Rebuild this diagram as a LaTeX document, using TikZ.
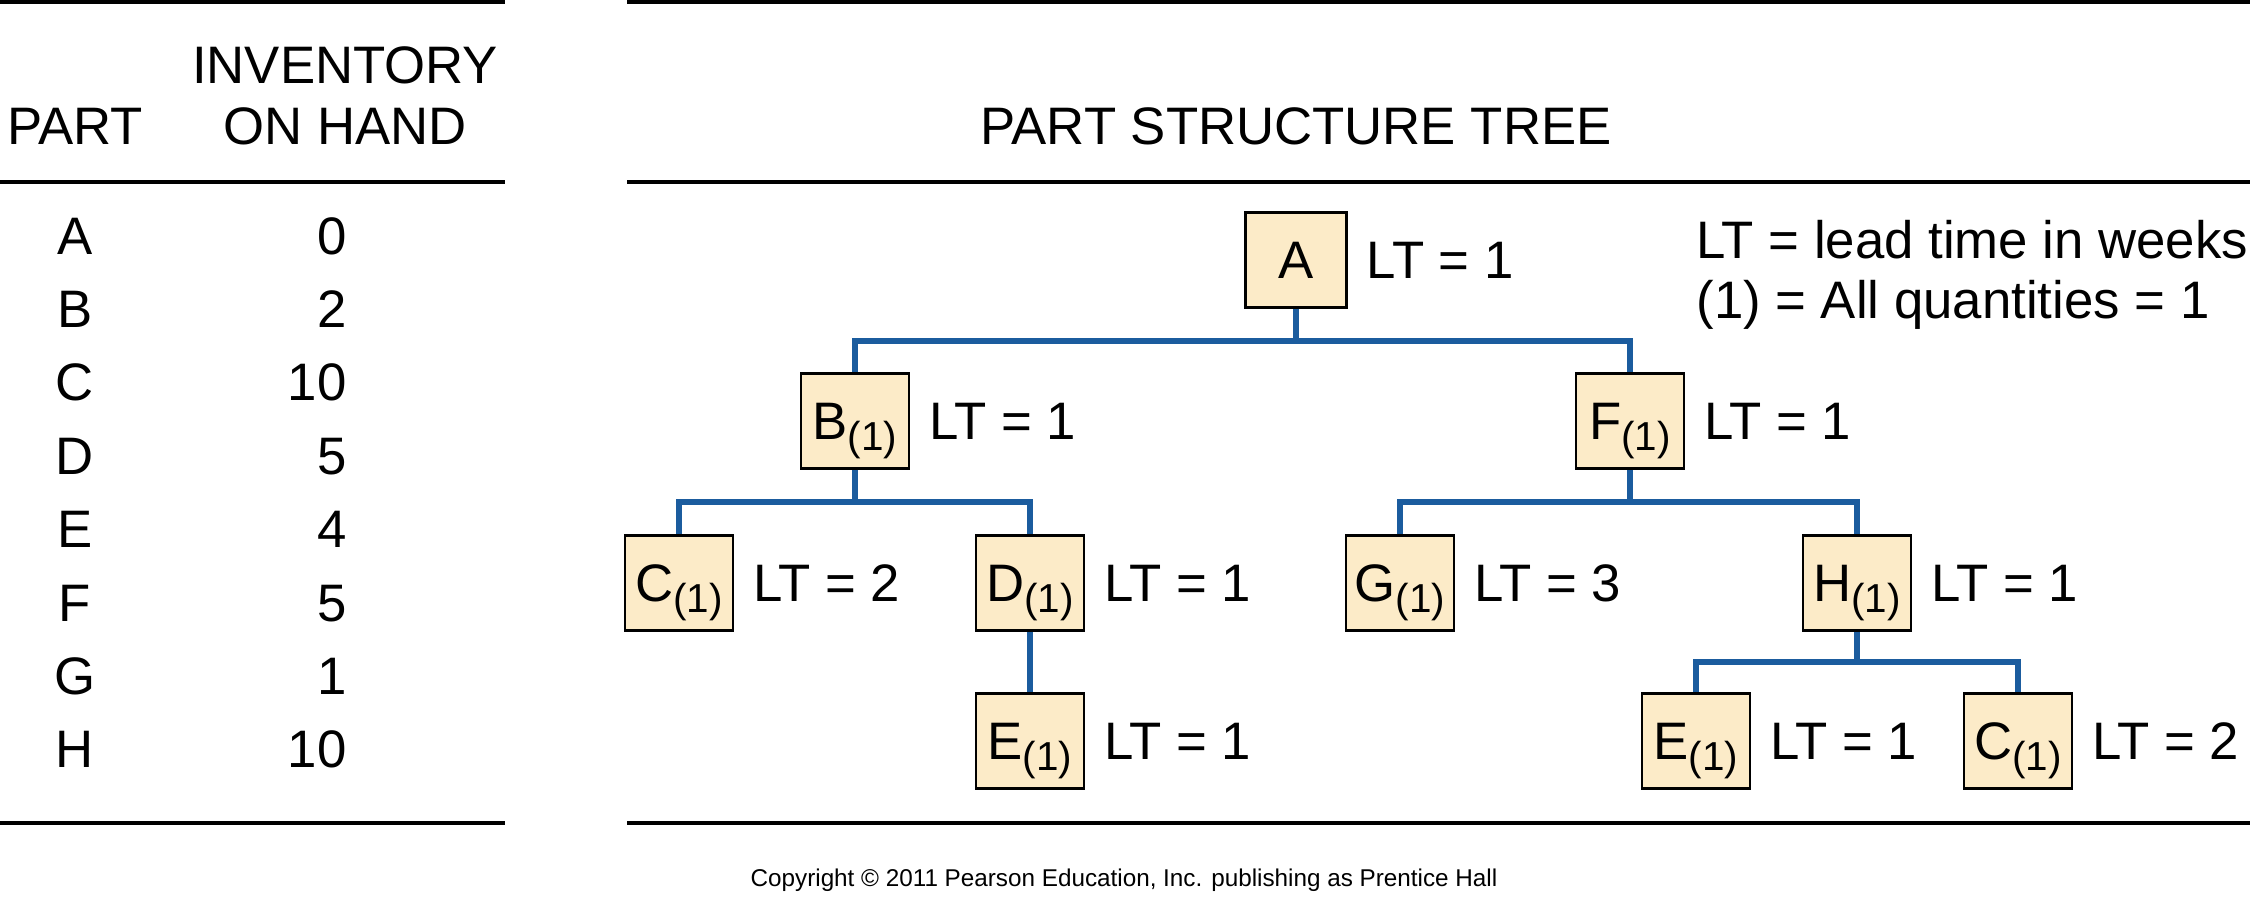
\documentclass[tikz,border=0pt]{standalone}
\usepackage{fontspec}
\setmainfont{Liberation Sans}
\usetikzlibrary{positioning}
\definecolor{partfill}{HTML}{FCEBC8}
\definecolor{treeblue}{HTML}{1B5C9E}
\newcommand{\qone}{\raisebox{-3pt}{\fontsize{11.5}{11.5}\selectfont(1)}}

\begin{document}
\begin{tikzpicture}[
    x=0.01cm, y=-0.01cm,
    font=\fontsize{15}{18}\selectfont,
    part/.style={rectangle, draw, line width=0.8pt, fill=partfill, minimum width=1.08cm, minimum height=0.95cm, inner sep=0pt, text height=10.7pt, text depth=0pt},
    lt/.style={inner sep=0pt},
    rule/.style={line width=1pt},
    link/.style={draw=treeblue, line width=1.7pt}
]
\useasboundingbox (0,0) rectangle (2250,917);

% Rules
\draw[rule] (0,2) -- (505,2);
\draw[rule] (627,2) -- (2250,2);
\draw[rule] (0,182) -- (505,182);
\draw[rule] (627,182) -- (2250,182);
\draw[rule] (0,823) -- (505,823);
\draw[rule] (627,823) -- (2250,823);

% Inventory table
\node[anchor=base] (hpart) at (75,144) {PART};
\node[anchor=base] (hinv) at (345,83) {INVENTORY};
\node[anchor=base] (hhand) at (345,144) {ON HAND};
\foreach \p/\q [count=\i from 0] in {A/0, B/2, C/10, D/5, E/4, F/5, G/1, H/10} {
    \node[anchor=base] (row\p) at (75,254+73.4*\i) {\p};
    \node[anchor=base east] (qty\p) at (359,254+73.4*\i) {\q};
}

% Part structure tree
\node[anchor=base] (htree) at (1296,144) {PART STRUCTURE TREE};
\node[part, minimum width=1.01cm] (A) at (1296,260) {A};
\node[part] (B) at (855,421) {B\qone};
\node[part] (F) at (1630,421) {F\qone};
\node[part] (C) at (679,583) {C\qone};
\node[part] (D) at (1030,583) {D\qone};
\node[part] (G) at (1400,583) {G\qone};
\node[part] (H) at (1857,583) {H\qone};
\node[part] (E) at (1030,741) {E\qone};
\node[part] (E2) at (1696,741) {E\qone};
\node[part] (C2) at (2018,741) {C\qone};

% Lead times
\node[lt, right=0.18cm of A] (ltA) {LT = 1};
\node[lt, right=0.18cm of B] (ltB) {LT = 1};
\node[lt, right=0.18cm of F] (ltF) {LT = 1};
\node[lt, right=0.18cm of C] (ltC) {LT = 2};
\node[lt, right=0.18cm of D] (ltD) {LT = 1};
\node[lt, right=0.18cm of G] (ltG) {LT = 3};
\node[lt, right=0.18cm of H] (ltH) {LT = 1};
\node[lt, right=0.18cm of E] (ltE) {LT = 1};
\node[lt, right=0.18cm of E2] (ltE2) {LT = 1};
\node[lt, right=0.18cm of C2] (ltC2) {LT = 2};

% Legend
\node[anchor=base west] (key1) at (1684,258) {LT = lead time in weeks};
\node[anchor=base west] (key2) at (1684,318) {(1) = All quantities = 1};

% Tree links
\draw[link] (A.south) -- ++(0,32) coordinate (jA);
\draw[link] (B.north) |- (jA) -| (F.north);
\draw[link] (B.south) -- ++(0,32) coordinate (jB);
\draw[link] (C.north) |- (jB) -| (D.north);
\draw[link] (D) -- (E);
\draw[link] (F.south) -- ++(0,32) coordinate (jF);
\draw[link] (G.north) |- (jF) -| (H.north);
\draw[link] (H.south) -- ++(0,30) coordinate (jH);
\draw[link] (E2.north) |- (jH) -| (C2.north);

\node[font=\fontsize{6.9}{8}\selectfont, anchor=base] (copy) at (1124,886) {Copyright \textcopyright{} 2011 Pearson Education, Inc. publishing as Prentice Hall};

\end{tikzpicture}
\end{document}
